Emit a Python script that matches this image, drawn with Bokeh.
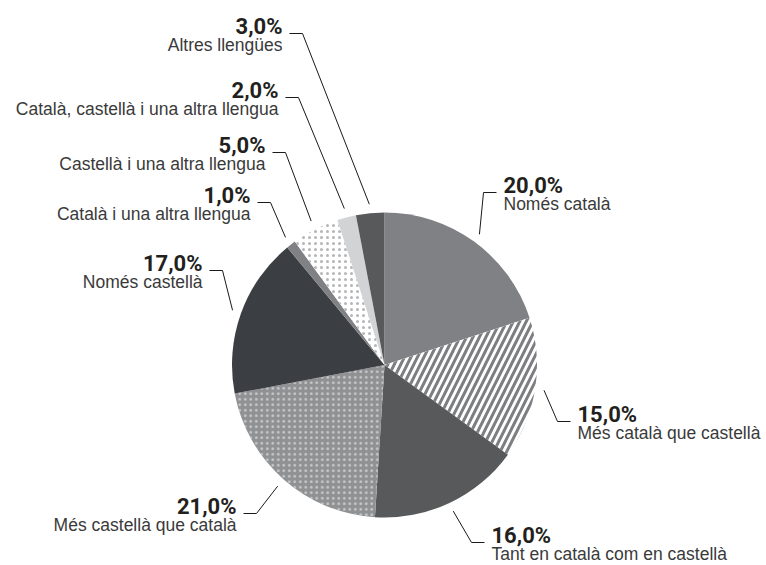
import math
from bokeh.plotting import figure
from bokeh.models import Range1d
from bokeh.core.properties import value
from bokeh.embed import file_html
from bokeh.resources import INLINE

# ---------------- data ----------------
categories = [
    "Només català",
    "Més català que castellà",
    "Tant en català com en castellà",
    "Més castellà que català",
    "Només castellà",
    "Català i una altra llengua",
    "Castellà i una altra llengua",
    "Català, castellà i una altra llengua",
    "Altres llengües",
]
values = [20.0, 15.0, 16.0, 21.0, 17.0, 1.0, 5.0, 2.0, 3.0]

# ---------------- styles ----------------
fill_colors = ["#808184", "#ffffff", "#58595b", "#909193", "#3b3e42",
               "#808184", "#ffffff", "#d1d3d4", "#58595b"]
hatch_patterns = [None, "/", None, ".", None, None, ".", None, None]
hatch_colors = [None, "#7d7e81", None, "#c8c9ca", None, None, "#b4b5b7", None, None]
hatch_scales = [None, 13, None, 5.5, None, None, 6, None, None]
hatch_weights = [None, 3, None, 1, None, None, 1, None, None]

# ---------------- layout (screenshot pixel coords) ----------------
W, H = 766, 565
CX, CY, R = 384, 364.5, 152.5
label_x = [503, 577, 491, 236, 202, 250, 265, 278, 282]
label_y = [192, 421, 542, 513, 270, 202, 152, 97, 33]
label_side = ["right", "right", "right", "left", "left", "left", "left", "left", "left"]
TEXT_SHIFT = 7  # svg text renders slightly below its anchor


def px(X):
    return X


def py(Y):
    return H - Y


p = figure(width=W, height=H, output_backend="svg", toolbar_location=None,
           x_range=Range1d(0, W), y_range=Range1d(0, H), min_border=0)
p.axis.visible = False
p.grid.visible = False
p.outline_line_color = None
p.background_fill_color = "white"
p.border_fill_color = "white"

total = sum(values)
cum = 0.0
for i, v in enumerate(values):
    a0 = math.pi / 2 - 2 * math.pi * cum / total
    a1 = math.pi / 2 - 2 * math.pi * (cum + v) / total
    mid = (cum + v / 2) / total * 2 * math.pi  # clockwise from top
    cum += v
    kw = dict(x=[px(CX)], y=[py(CY)], radius=R, radius_units="screen",
              start_angle=[a0], end_angle=[a1], direction="clock",
              fill_color=fill_colors[i], line_color=None)
    if hatch_patterns[i]:
        kw.update(hatch_pattern=hatch_patterns[i], hatch_color=hatch_colors[i],
                  hatch_scale=hatch_scales[i], hatch_weight=hatch_weights[i])
    p.wedge(**kw)

    # leader line
    rr = R + 9
    sx = CX + rr * math.sin(mid)
    sy = CY - rr * math.cos(mid)
    tx, ty = label_x[i], label_y[i]
    if label_side[i] == "right":
        ex, hx = tx - 20, tx - 7
        align = "left"
    else:
        ex, hx = tx + 20, tx + 7
        align = "right"
    p.line(x=[px(sx), px(ex), px(hx)], y=[py(sy), py(ty), py(ty)],
           line_color="#1a1a1a", line_width=1)

    pct = f"{v:.1f}%".replace(".", ",")
    p.text(x=[px(tx)], y=[py(ty - TEXT_SHIFT)], text=[pct],
           text_font=value("Roboto"), text_font_style="bold",
           text_font_size="22px", text_color="#231f20",
           text_align=align, text_baseline="alphabetic")
    p.text(x=[px(tx)], y=[py(ty + 18 - TEXT_SHIFT)], text=[categories[i]],
           text_font=value("Liberation Sans"), text_font_style="normal",
           text_font_size="17.5px", text_color="#3a3a3a",
           text_align=align, text_baseline="alphabetic")

open("out.html", "w").write(file_html(p, INLINE))
